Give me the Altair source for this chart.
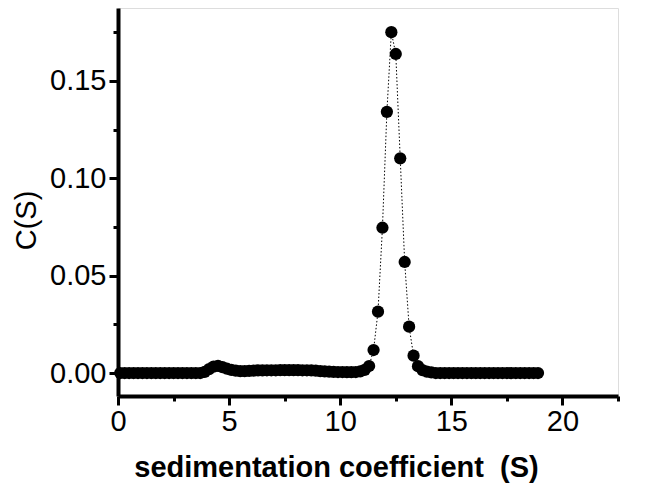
import altair as alt
import pandas as pd

# sedimentation coefficient (S)
s_values = [
    0.1, 0.3, 0.5, 0.7, 0.9,
    1.1, 1.3, 1.5, 1.7, 1.9,
    2.1, 2.3, 2.5, 2.7, 2.9,
    3.1, 3.3, 3.5, 3.7, 3.9,
    4.1, 4.3, 4.5, 4.7, 4.9,
    5.1, 5.3, 5.5, 5.7, 5.9,
    6.1, 6.3, 6.5, 6.7, 6.9,
    7.1, 7.3, 7.5, 7.7, 7.9,
    8.1, 8.3, 8.5, 8.7, 8.9,
    9.1, 9.3, 9.5, 9.7, 9.9,
    10.1, 10.3, 10.5, 10.7, 10.9,
    11.1, 11.3, 11.5, 11.7, 11.9,
    12.1, 12.3, 12.5, 12.7, 12.9,
    13.1, 13.3, 13.5, 13.7, 13.9,
    14.1, 14.3, 14.5, 14.7, 14.9,
    15.1, 15.3, 15.5, 15.7, 15.9,
    16.1, 16.3, 16.5, 16.7, 16.9,
    17.1, 17.3, 17.5, 17.7, 17.9,
    18.1, 18.3, 18.5, 18.7, 18.9,
]

# C(S)
c_values = [
    0.0000, 0.0000, 0.0000, 0.0000, 0.0000,
    0.0000, 0.0000, 0.0000, 0.0000, 0.0000,
    0.0000, 0.0000, 0.0000, 0.0000, 0.0000,
    0.0000, 0.0000, 0.0000, 0.0000, 0.0006,
    0.0020, 0.0033, 0.0037, 0.0030, 0.0022,
    0.0016, 0.0012, 0.0010, 0.0010, 0.0011,
    0.0012, 0.0013, 0.0013, 0.0014, 0.0014,
    0.0014, 0.0015, 0.0015, 0.0015, 0.0015,
    0.0015, 0.0014, 0.0014, 0.0013, 0.0012,
    0.0010, 0.0008, 0.0007, 0.0006, 0.0005,
    0.0005, 0.0004, 0.0004, 0.0005, 0.0008,
    0.0016, 0.0036, 0.0118, 0.0315, 0.0746,
    0.1341, 0.1750, 0.1638, 0.1102, 0.0570,
    0.0238, 0.0089, 0.0035, 0.0015, 0.0007,
    0.0003, 0.0000, 0.0000, 0.0000, 0.0000,
    0.0000, 0.0000, 0.0000, 0.0000, 0.0000,
    0.0000, 0.0000, 0.0000, 0.0000, 0.0000,
    0.0000, 0.0000, 0.0000, 0.0000, 0.0000,
    0.0000, 0.0000, 0.0000, 0.0000, 0.0000,
]

x_ticks = [0, 2.5, 5, 7.5, 10, 12.5, 15, 17.5, 20, 22.5]
y_ticks = [0, 0.025, 0.05, 0.075, 0.1, 0.125, 0.15, 0.175]

df = pd.DataFrame({"s": s_values, "c": c_values})

FONT = "Liberation Sans"

x_enc = alt.X(
    "s:Q",
    scale=alt.Scale(domain=[0, 22.5], nice=False, zero=False),
    axis=alt.Axis(
        values=x_ticks,
        title="sedimentation coefficient\u00a0 (S)",
        titleFont=FONT,
        titleFontSize=29,
        titleFontWeight="bold",
        titleColor="black",
        titleY=80,
        titleX=218,
        titleBaseline="alphabetic",
        labelFont=FONT,
        labelFontSize=29,
        labelColor="black",
        labelPadding=2,
        labelExpr="datum.value % 5 === 0 ? format(datum.value, 'd') : ''",
        labelFlush=False,
        labelOverlap=False,
        grid=False,
        domainColor="black",
        domainWidth=4,
        tickColor="black",
        tickWidth=3,
        tickSize={"condition": {"test": "datum.value % 5 === 0", "value": 9}, "value": 5},
    ),
)

y_enc = alt.Y(
    "c:Q",
    scale=alt.Scale(domain=[-0.0118, 0.1874], nice=False, zero=False),
    axis=alt.Axis(
        values=y_ticks,
        title="C(S)",
        titleFont=FONT,
        titleFontSize=29,
        titleFontWeight="normal",
        titleColor="black",
        titleAngle=-90,
        titleX=-92,
        titleY=212,
        titleAlign="center",
        titleBaseline="middle",
        labelFont=FONT,
        labelFontSize=29,
        labelColor="black",
        labelPadding=3,
        labelExpr="round(datum.value * 1000) % 50 === 0 ? format(datum.value, '.2f') : ''",
        labelFlush=False,
        labelOverlap=False,
        grid=False,
        domainColor="black",
        domainWidth=4,
        tickColor="black",
        tickWidth=3,
        tickSize={"condition": {"test": "round(datum.value * 1000) % 50 === 0", "value": 9}, "value": 5},
    ),
)

line = alt.Chart(df).mark_line(
    color="black", strokeWidth=1, strokeDash=[1.5, 2]
).encode(x=x_enc, y=y_enc)

points = alt.Chart(df).mark_point(
    filled=True, color="black", opacity=1, size=150, shape="circle"
).encode(x="s:Q", y="c:Q")

chart = (
    alt.layer(line, points)
    .properties(
        width=500,
        height=388,
        autosize=alt.AutoSizeParams(type="none"),
        padding={"left": 110, "top": 0, "right": 20, "bottom": 87},
    )
    .configure_view(strokeWidth=0, stroke="transparent")
    .configure(background="white")
)

chart.save("out.html", embed_options={"renderer": "svg", "actions": False})
